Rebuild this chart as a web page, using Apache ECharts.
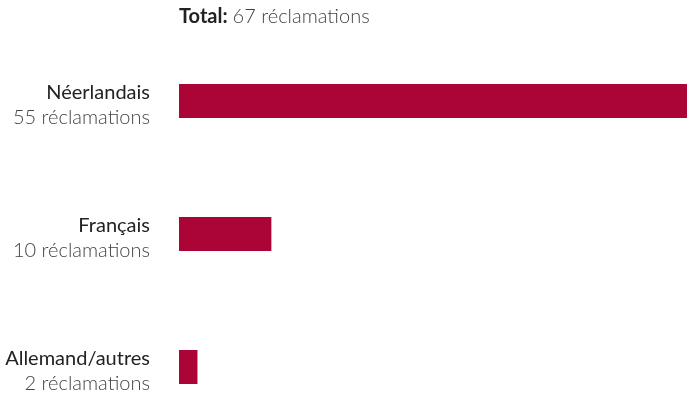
<!DOCTYPE html>
<html>
<head>
<meta charset="utf-8">
<style>
  html, body { margin: 0; padding: 0; background: #ffffff; }
  #chart { width: 687px; height: 398px; }
</style>
<script src="https://cdn.jsdelivr.net/npm/echarts@6/dist/echarts.min.js"></script>
</head>
<body>
<div id="chart"></div>
<script>
// Complaints by language
const languages = ['Néerlandais', 'Français', 'Allemand/autres'];
const complaints = [55, 10, 2];
const totalComplaints = 67;
const unitLabel = 'réclamations';

const chart = echarts.init(document.getElementById('chart'), null, { renderer: 'canvas' });

const FONT = 'Lato, "Open Sans", sans-serif';

chart.setOption({
  animation: false,
  backgroundColor: '#ffffff',
  title: {
    left: 179,
    top: 7,
    padding: 0,
    text: '{b|Total:} {l|' + totalComplaints + ' ' + unitLabel + '}',
    textStyle: {
      rich: {
        b: { fontFamily: FONT, fontSize: 20, fontWeight: 'bold', color: '#222222' },
        l: { fontFamily: FONT, fontSize: 20, fontWeight: 300, color: '#444444' }
      }
    }
  },
  grid: {
    left: 179, right: 0, top: 34.5, height: 399,
    containLabel: false,
    outerBoundsMode: 'none'
  },
  xAxis: {
    type: 'value',
    min: 0,
    max: 55,
    show: false
  },
  yAxis: {
    type: 'category',
    inverse: true,
    data: languages,
    axisLine: { show: false },
    axisTick: { show: false },
    splitLine: { show: false },
    axisLabel: {
      margin: 29,
      align: 'right',
      formatter: function (value, idx) {
        return '{n|' + value + '}\n{v|' + complaints[idx] + ' ' + unitLabel + '}';
      },
      rich: {
        n: { fontFamily: FONT, fontSize: 20, fontWeight: 'normal', color: '#222222', lineHeight: 32, align: 'right', padding: [15, 0, 0, 0] },
        v: { fontFamily: FONT, fontSize: 20, fontWeight: 300, color: '#444444', lineHeight: 32, align: 'right', padding: [2, 0, 0, 0] }
      }
    }
  },
  series: [{
    type: 'bar',
    data: complaints,
    barWidth: 34,
    itemStyle: { color: '#aa0536' },
    silent: true
  }]
});
</script>
</body>
</html>
